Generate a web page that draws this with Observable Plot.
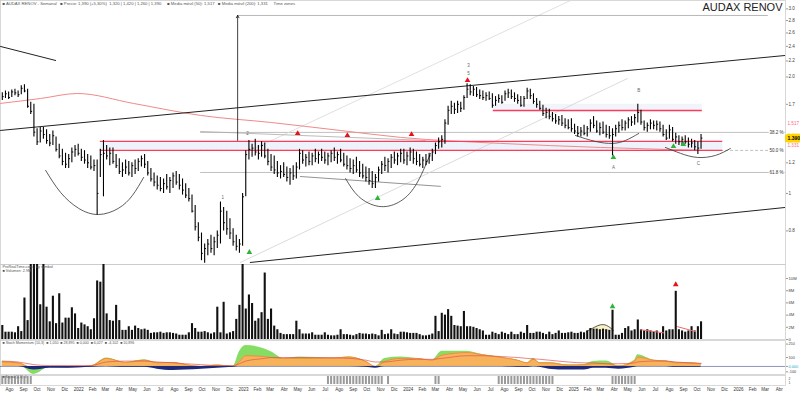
<!DOCTYPE html>
<html><head><meta charset="utf-8">
<script src="https://cdn.jsdelivr.net/npm/d3@7"></script>
<script src="https://cdn.jsdelivr.net/npm/@observablehq/plot@0.6"></script>
<style>
body{margin:0;background:#fff;font-family:"Liberation Sans",Arial,sans-serif}
#c{position:relative;width:800px;height:393px;overflow:hidden;background:#fff}
#c svg{position:absolute;left:0;overflow:visible}
</style></head><body><div id="c"></div>
<script>
// ---------- DATA ----------
const firstWeek = "2021-07-16";
const high = [
1.82,1.84,1.83,1.85,1.86,1.84,1.90,1.91,1.86,1.72,
1.70,1.47,1.48,1.48,1.46,1.42,1.45,1.40,1.34,1.30,
1.27,1.26,1.31,1.33,1.34,1.30,1.29,1.26,1.25,1.22,
1.22,1.30,1.37,1.33,1.31,1.31,1.26,1.23,1.20,1.22,
1.21,1.20,1.22,1.23,1.25,1.26,1.21,1.16,1.13,1.11,
1.10,1.09,1.12,1.10,1.13,1.14,1.12,1.09,1.06,1.03,
0.99,0.93,0.84,0.79,0.74,0.76,0.78,0.77,0.80,0.95,
0.92,0.90,0.86,0.81,0.78,0.76,1.00,1.29,1.37,1.34,
1.38,1.33,1.36,1.35,1.30,1.26,1.25,1.21,1.18,1.20,
1.17,1.16,1.18,1.20,1.30,1.29,1.26,1.28,1.27,1.30,
1.28,1.30,1.28,1.27,1.29,1.31,1.28,1.30,1.27,1.25,
1.23,1.22,1.24,1.21,1.19,1.17,1.16,1.14,1.12,1.17,
1.21,1.24,1.23,1.26,1.28,1.27,1.30,1.30,1.28,1.31,
1.30,1.28,1.26,1.24,1.26,1.27,1.30,1.35,1.39,1.41,
1.55,1.68,1.73,1.71,1.73,1.72,1.79,1.92,1.91,1.89,
1.88,1.85,1.84,1.82,1.83,1.81,1.78,1.80,1.79,1.84,
1.86,1.85,1.82,1.80,1.78,1.78,1.87,1.86,1.81,1.76,
1.73,1.69,1.66,1.65,1.62,1.60,1.58,1.59,1.56,1.55,
1.56,1.51,1.49,1.48,1.50,1.49,1.55,1.58,1.54,1.52,
1.53,1.50,1.49,1.47,1.50,1.53,1.55,1.54,1.57,1.58,
1.60,1.70,1.64,1.54,1.52,1.55,1.54,1.54,1.53,1.50,
1.46,1.50,1.48,1.43,1.41,1.40,1.41,1.39,1.38,1.37,
1.36,1.42];
const low = [
1.74,1.76,1.75,1.77,1.79,1.77,1.80,1.82,1.66,1.60,
1.40,1.33,1.35,1.38,1.34,1.32,1.33,1.28,1.23,1.18,
1.16,1.16,1.20,1.24,1.25,1.21,1.19,1.16,1.15,1.14,
0.88,1.10,0.98,1.22,1.18,1.19,1.16,1.12,1.10,1.12,
1.11,1.10,1.12,1.14,1.17,1.16,1.11,1.07,1.04,1.02,
1.01,1.00,1.02,1.00,1.03,1.05,1.02,0.99,0.97,0.95,
0.89,0.80,0.75,0.67,0.66,0.69,0.70,0.69,0.72,0.74,
0.80,0.78,0.76,0.73,0.71,0.70,0.73,0.98,1.22,1.24,
1.25,1.22,1.24,1.23,1.18,1.14,1.12,1.10,1.09,1.10,
1.07,1.05,1.08,1.09,1.15,1.19,1.17,1.18,1.18,1.20,
1.19,1.21,1.19,1.18,1.20,1.21,1.19,1.20,1.17,1.15,
1.13,1.12,1.13,1.10,1.09,1.07,1.05,1.03,1.03,1.07,
1.12,1.14,1.13,1.16,1.19,1.18,1.20,1.19,1.18,1.21,
1.19,1.18,1.17,1.16,1.18,1.19,1.21,1.26,1.30,1.31,
1.34,1.50,1.60,1.60,1.61,1.62,1.64,1.76,1.79,1.78,
1.77,1.75,1.74,1.73,1.74,1.66,1.68,1.71,1.70,1.73,
1.76,1.75,1.72,1.70,1.67,1.67,1.75,1.75,1.70,1.66,
1.64,1.58,1.56,1.55,1.53,1.51,1.50,1.49,1.47,1.46,
1.44,1.42,1.40,1.40,1.41,1.40,1.44,1.47,1.43,1.41,
1.42,1.39,1.38,1.25,1.40,1.43,1.45,1.45,1.47,1.49,
1.50,1.52,1.50,1.45,1.44,1.46,1.46,1.45,1.44,1.40,
1.37,1.38,1.36,1.34,1.33,1.33,1.34,1.31,1.31,1.29,
1.26,1.30];
const close = [
1.78,1.81,1.77,1.83,1.82,1.80,1.87,1.84,1.68,1.63,
1.44,1.36,1.45,1.42,1.37,1.35,1.41,1.30,1.25,1.21,
1.19,1.23,1.28,1.30,1.27,1.24,1.22,1.20,1.17,1.18,
1.00,1.26,1.27,1.25,1.27,1.21,1.18,1.14,1.15,1.17,
1.13,1.18,1.16,1.21,1.23,1.19,1.13,1.09,1.07,1.05,
1.03,1.06,1.04,1.08,1.11,1.07,1.05,1.02,0.99,0.97,
0.90,0.82,0.77,0.70,0.72,0.74,0.72,0.75,0.78,0.90,
0.84,0.81,0.79,0.75,0.73,0.74,0.98,1.26,1.30,1.31,
1.28,1.27,1.33,1.25,1.21,1.17,1.15,1.13,1.14,1.12,
1.10,1.13,1.11,1.17,1.27,1.22,1.24,1.21,1.25,1.23,
1.26,1.24,1.22,1.25,1.27,1.24,1.26,1.22,1.19,1.18,
1.16,1.18,1.15,1.13,1.11,1.10,1.08,1.06,1.10,1.15,
1.19,1.18,1.21,1.24,1.22,1.25,1.27,1.22,1.25,1.28,
1.23,1.21,1.19,1.22,1.21,1.25,1.28,1.33,1.36,1.38,
1.52,1.64,1.68,1.65,1.70,1.66,1.77,1.86,1.83,1.86,
1.80,1.79,1.77,1.79,1.76,1.69,1.74,1.76,1.72,1.81,
1.82,1.78,1.76,1.74,1.69,1.76,1.84,1.79,1.73,1.70,
1.66,1.61,1.62,1.58,1.56,1.54,1.55,1.52,1.50,1.48,
1.47,1.45,1.43,1.45,1.43,1.47,1.52,1.50,1.45,1.48,
1.44,1.42,1.41,1.42,1.47,1.50,1.48,1.52,1.55,1.53,
1.57,1.62,1.53,1.48,1.50,1.52,1.50,1.51,1.47,1.42,
1.39,1.46,1.38,1.40,1.36,1.38,1.36,1.34,1.35,1.32,
1.31,1.39];
// weekly volume, millions
const volume = [
2.3,1.2,1.2,1.2,1.1,2.1,1.3,6.8,3.1,14,
14,14,5.7,14,5.3,2.9,7.1,2.6,7.5,2.7,
3.5,3.5,5.2,4.2,1.8,2.7,2.4,2.1,1.6,3.4,
9.6,9.4,13,4.2,3.1,3.0,5.6,3.1,1.5,1.5,
2.1,1.5,2.2,1.8,1.6,1.7,1.5,1.0,1.1,1.1,
1.2,1.0,1.1,1.1,1.0,0.9,0.7,0.7,0.7,1.1,
2.6,1.8,1.2,1.2,1.3,1.1,0.9,1.1,5.3,1.1,
6.1,0.9,1.1,1.3,3.3,5.6,14,5.0,7.3,5.9,
3.0,3.4,4.4,10.9,3.3,5.0,2.2,1.6,1.0,0.8,
0.8,0.8,0.8,3.0,1.6,0.9,0.9,0.9,1.1,0.7,
0.7,0.7,1.1,0.7,0.6,0.6,0.7,1.6,0.8,0.8,
0.7,0.6,0.8,1.0,0.9,0.9,0.8,0.9,0.8,0.6,
1.5,0.8,0.9,1.6,0.9,0.8,1.2,1.2,1.1,1.0,
1.0,1.0,0.8,0.6,0.6,0.7,0.9,3.8,1.3,4.3,
4.0,4.9,3.8,2.3,2.2,2.1,4.6,2.1,2.1,2.0,
1.8,1.6,1.4,0.7,0.7,1.2,1.0,0.8,1.2,1.0,
0.8,1.2,0.8,0.8,1.2,1.0,2.3,1.0,1.0,1.2,
1.2,1.0,0.8,1.2,0.8,1.0,1.4,1.0,1.0,1.1,
1.2,1.0,1.0,1.2,1.1,1.4,1.8,1.7,1.7,1.6,
1.7,1.6,1.5,4.8,0.7,0.7,1.0,1.8,2.1,1.4,
1.6,3.2,1.6,1.4,1.6,1.4,1.2,1.4,1.0,2.1,
1.4,1.6,1.6,7.9,1.6,1.4,1.2,1.4,2.1,1.4,
2.1,2.9];
// oscillator (sampled at week index)
const oscIdx = [0,5,10,15,21,28,33,39,45,49,54,58,63,68,73,75,77,83,85,89,94,105,110,115,118,121,126,131,136,139,147,152,158,163,166,168,170,173,179,184,187,191,195,200,201,206,210,213,217,221];
const oscGreen = [55,40,-90,-10,-10,0,95,45,75,40,45,20,0,15,0,165,235,195,165,90,105,95,105,55,0,90,105,90,70,170,170,130,100,70,40,90,40,40,15,20,55,60,5,70,130,70,60,45,40,30];
const oscOrange = [50,40,-20,0,-10,5,90,45,70,40,45,20,0,15,0,55,120,110,100,90,90,95,105,55,0,55,90,90,70,125,155,130,100,70,40,80,40,40,15,20,30,30,5,60,105,70,60,40,40,30];
const oscNavy = [0,0,-40,-20,-20,-10,0,-10,-10,-30,-45,-40,-30,-20,-10,0,0,0,0,0,0,0,0,-10,-20,0,0,0,0,0,0,0,0,-10,-10,0,-10,-30,-40,-40,-20,-20,-30,-10,0,0,0,-10,-10,-10];
const oscRed = [60,50,20,10,10,10,50,60,60,50,40,30,20,10,10,30,60,90,100,100,100,95,90,70,50,50,70,80,80,90,120,120,110,100,90,85,80,70,50,40,40,30,30,40,50,60,60,50,40,35];
// signal bar-code (week index ranges)
const signalRanges = [[0,9],[103,120],[122,122],[137,138],[157,174],[193,200]];

// drawings on the price chart (date, price)
const upperTrend = [["2021-07-12",1.455],["2026-04-15",2.274]];
const topLeftLine = [["2021-07-12",2.399],["2021-11-11",2.207]];
const lowerTrend = [["2023-01-16",0.663],["2026-04-15",0.920]];
const grayDiag1 = [["2022-12-25",0.663],["2025-04-30",1.982]];
const grayDiag2 = [["2023-01-16",1.292],["2024-12-25",3.154]];
const grayLine1 = [["2022-09-28",1.446],["2024-02-08",1.371]];
const grayLine2 = [["2023-05-07",1.106],["2024-03-12",1.043]];
const redLevels = [1.363, 1.292];
const redLevelSpan = ["2022-02-18","2025-11-27"];
const redTopLevel = 1.639;
const redTopSpan = ["2024-07-07","2025-10-13"];
const fibLevels = [1.438, 1.292, 1.133];
const fibLabels = ["38.2 %","50.0 %","61.8 %"];
const fibStart = "2022-09-28";
const maLine = [["2021-07-12",1.709],["2021-10-09",1.760],["2021-12-29",1.813],["2022-05-02",1.709],["2022-09-28",1.591],["2023-03-02",1.526],["2023-08-03",1.455],["2023-12-15",1.396],["2024-07-23",1.347],["2025-03-01",1.315],["2025-07-28",1.299],["2025-10-09",1.292]];
const arc1 = [["2021-10-20",1.147],["2021-11-22",1.006],["2022-01-01",0.915],["2022-02-14",0.882],["2022-03-30",0.915],["2022-04-30",0.988],["2022-05-25",1.100]];
const arc2 = [["2023-08-15",1.093],["2023-09-13",0.982],["2023-10-27",0.926],["2023-12-10",0.948],["2024-01-17",1.049],["2024-02-19",1.269]];
const arc3 = [["2025-01-05",1.412],["2025-02-18",1.363],["2025-03-28",1.347],["2025-04-26",1.371],["2025-05-25",1.429]];
const arc4 = [["2025-07-23",1.315],["2025-08-26",1.269],["2025-10-02",1.239],["2025-11-11",1.254],["2025-12-14",1.307]];
const measureArrow = {date:"2022-12-19", from:1.371, to:2.885, end:"2026-03-08"};
const redMarks = [["2023-05-01",1.429],["2023-08-19",1.412],["2024-01-08",1.421],["2024-05-11",1.959]];
const greenMarks = [["2023-01-14",0.704],["2023-10-25",0.971],["2025-03-30",1.239],["2025-08-10",1.323],["2025-09-01",1.339]];
const waveLabels = [["2022-11-16",0.976,"1"],["2023-01-10",1.429,"2"],["2024-05-13",2.142,"3"],["2024-05-13",2.042,"5"],["2025-05-25",1.846,"B"],["2025-03-30",1.167,"A"],["2025-10-04",1.195,"C"]];
// volume panel drawings
const volRedLine1 = [["2025-05-29",1.6],["2025-07-19",1.1]];
const volRedLine2 = [["2025-08-19",2.1],["2025-09-28",1.3]];
const volArc = [["2025-01-29",1.3],["2025-02-16",2.0],["2025-03-01",2.4],["2025-03-15",2.3],["2025-03-30",1.5]];
const volArcBase = 1.3;
const volMarkRed = [["2025-08-15",9.0]];
const volMarkGreen = [["2025-03-28",5.4]];
// axis labels
const priceTicks = [3.0,2.8,2.6,2.4,2.2,2.0,1.7,1.2,1.0,0.8];
const pinkLabels = [[1.517,"1.517"],[1.331,"1.331"]];
const volTicks = [10,8,6,4,2,0];
const volTickLabels = ["10M","8M","6M","4M","2M","0"];
const oscTicks = [250,100,0,-60];
const oscTickLabels = ["250","100","0.000","-100"];
const sigTicks = [1.4,0.6];
const sigTickLabels = ["2","1"];
const monthNames = ["Ene","Feb","Mar","Abr","May","Jun","Jul","Ago","Sep","Oct","Nov","Dic"];
const title = "AUDAX RENOV";
const headerText = "■ AUDAX RENOV - Semanal   ■ Precio: 1,390 (+5,30%)  1,320 | 1,420 | 1,260 | 1,390     ■ Media móvil (50): 1,517   ■ Media móvil (200): 1,331     Time zones";
const volHeader1 = "ProRealTime.com | by symbol";
const volHeader2 = "■ Volumen: 2.9M";
const oscHeader = "■ Stoch Momentum (10,3)  ■ 1,050  ■ 28,895  ■ 0,000  ■ 6,027  ■ -4,102  ■ 10,896";
const sigHeader = "■ Signal (2,3): 0";

// ---------- RENDER ----------
const c = document.getElementById("c");
const D = s => new Date(s);
const P = a => a.map(([d, v]) => ({x: D(d), y: v}));
const weeks = high.map((_, i) => d3.utcDay.offset(D(firstWeek), 7 * i));
const bars = high.map((h, i) => ({date: weeks[i], high: h, low: low[i], close: close[i], vol: volume[i]}));
const osc = oscIdx.map((k, j) => ({x: weeks[k], g: oscGreen[j], o: oscOrange[j], n: oscNavy[j], r: oscRed[j]}));
const signalWeeks = signalRanges.flatMap(([a, b]) => d3.range(a, b + 1));
const X = {type: "utc", domain: [D("2021-07-12"), D("2026-04-15")], axis: null};
const base = {width: 800, marginLeft: 0, marginRight: 15, marginTop: 0, marginBottom: 0,
  style: {fontFamily: "Liberation Sans, Arial, sans-serif", fontSize: "5px", background: "transparent", overflow: "visible"}};
function place(svg, top) { svg.style.top = top + "px"; c.appendChild(svg); }
const fr = Plot.frame({stroke: "#c8c8c8", strokeWidth: 0.7});
const ln = (data, o) => Plot.line(P(data), {x: "x", y: "y", clip: true, ...o});
const hdr = (txt, dy, size) => Plot.text([txt], {frameAnchor: "top-left", dx: 2, dy, lineAnchor: "top", textAnchor: "start", fontSize: size, fill: "#555"});

const lastClose = close[close.length - 1];
const priceSvg = Plot.plot({...base, height: 264,
  x: X,
  y: {type: "log", domain: [0.655, 3.154], axis: null},
  marks: [
    fr,
    Plot.rect([0], {x1: () => D(redLevelSpan[0]), x2: () => D(redLevelSpan[1]), y1: redLevels[1], y2: redLevels[0], fill: "#eef2fa"}),
    Plot.rect([0], {x1: () => D(redTopSpan[0]), x2: () => D(redTopSpan[1]), y1: redTopLevel, y2: 1.70, fill: "#f1f4fa"}),
    ...fibLevels.map((v, i) => Plot.ruleY([v], {x1: D(fibStart), x2: X.domain[1], stroke: "#b0b0b0", strokeWidth: 0.8, strokeDasharray: i === 1 ? "3,2" : null})),
    ln(grayDiag1, {stroke: "#d2d2d2", strokeWidth: 0.8}),
    ln(grayDiag2, {stroke: "#d8d8d8", strokeWidth: 0.8}),
    ln(grayLine1, {stroke: "#aaa", strokeWidth: 0.8}),
    ln(grayLine2, {stroke: "#777", strokeWidth: 0.8}),
    ln(maLine, {stroke: "#f08a8a", strokeWidth: 1, curve: "monotone-x"}),
    ...redLevels.map(v => Plot.ruleY([v], {x1: D(redLevelSpan[0]), x2: D(redLevelSpan[1]), stroke: "#ff3b5c", strokeWidth: 1.4})),
    Plot.ruleY([redTopLevel], {x1: D(redTopSpan[0]), x2: D(redTopSpan[1]), stroke: "#ff3b5c", strokeWidth: 1.4}),
    ln(upperTrend, {stroke: "#222", strokeWidth: 1}),
    ln(topLeftLine, {stroke: "#222", strokeWidth: 1}),
    ln(lowerTrend, {stroke: "#222", strokeWidth: 1}),
    ...[arc1, arc2, arc3, arc4].map(a => ln(a, {stroke: "#333", strokeWidth: 0.8, curve: "natural"})),
    Plot.ruleY([measureArrow.to], {x1: D(measureArrow.date), x2: D(measureArrow.end), stroke: "#999", strokeWidth: 0.7}),
    Plot.arrow([measureArrow], {x1: d => D(d.date), x2: d => D(d.date), y1: "from", y2: "to", stroke: "#111", strokeWidth: 0.8, headLength: 5}),
    Plot.ruleX(bars, {x: "date", y1: "low", y2: "high", stroke: "#000", strokeWidth: 1.1, clip: true}),
    Plot.link(bars, {x1: "date", x2: d => d3.utcDay.offset(d.date, 3), y1: "close", y2: "close", stroke: "#000", strokeWidth: 1, clip: true}),
    Plot.dot(P(redMarks), {x: "x", y: "y", symbol: "triangle", r: 2.1, fill: "#e8101a"}),
    Plot.dot(P(greenMarks), {x: "x", y: "y", symbol: "triangle", r: 2.1, fill: "#2bb33a"}),
    Plot.text(waveLabels, {x: d => D(d[0]), y: d => d[1], text: d => d[2], fontSize: 4.5, fill: "#666"}),
    Plot.text(fibLevels, {y: d => d, text: (d, i) => fibLabels[i], frameAnchor: "right", textAnchor: "end", dx: -2, fontSize: 4.5, fill: "#333", stroke: "#fff", strokeWidth: 2}),
    Plot.axisY(priceTicks, {anchor: "right", tickSize: 2, tickPadding: 1, fontSize: 4.6, stroke: "#999", fill: "#444", tickFormat: d => d === 1 ? "1" : d.toFixed(1)}),
    Plot.text(pinkLabels, {y: d => d[0], text: d => d[1], frameAnchor: "right", textAnchor: "start", dx: 2, fontSize: 4.6, fill: "#ff6680"}),
    Plot.text([lastClose], {y: d => d, text: d => d.toFixed(3), frameAnchor: "right", textAnchor: "start", dx: 2, fontSize: 5, fontWeight: "bold", fill: "#000", stroke: "#ffd400", strokeWidth: 5}),
    Plot.text([title], {frameAnchor: "top-right", dx: -3, dy: 3, fontSize: 11, fill: "#222", lineAnchor: "top", textAnchor: "end", stroke: "#fff", strokeWidth: 3}),
    hdr(headerText, 2, 4.2)
  ]
});
place(priceSvg, 0);

const volSvg = Plot.plot({...base, height: 75,
  x: X,
  y: {domain: [0, 12.3], axis: null},
  marks: [
    fr,
    Plot.areaY(P(volArc), {x: "x", y1: volArcBase, y2: "y", fill: "#f7f1c8", curve: "natural"}),
    ln(volArc, {stroke: "#333", strokeWidth: 0.8, curve: "natural"}),
    Plot.ruleX(bars, {x: "date", y1: 0, y2: "vol", stroke: "#111", strokeWidth: 2.1, clip: true}),
    ln(volRedLine1, {stroke: "#f06a6a", strokeWidth: 1}),
    ln(volRedLine2, {stroke: "#f06a6a", strokeWidth: 1}),
    Plot.dot(P(volMarkRed), {x: "x", y: "y", symbol: "triangle", r: 2.1, fill: "#e8101a"}),
    Plot.dot(P(volMarkGreen), {x: "x", y: "y", symbol: "triangle", r: 2.1, fill: "#2bb33a"}),
    Plot.axisY(volTicks, {anchor: "right", tickSize: 2, tickPadding: 1, fontSize: 4.2, stroke: "#999", fill: "#444", tickFormat: d => volTickLabels[volTicks.indexOf(d)]}),
    hdr(volHeader1, 0.5, 3.8),
    hdr(volHeader2, 5, 3.8)
  ]
});
place(volSvg, 264);

const oscSvg = Plot.plot({...base, height: 34,
  x: X,
  y: {domain: [-90, 290], axis: null},
  marks: [
    fr,
    Plot.areaY(osc, {x: "x", y1: 0, y2: "g", fill: "#86dd64", curve: "monotone-x"}),
    Plot.areaY(osc, {x: "x", y1: 0, y2: "o", fill: "#f6b35c", curve: "monotone-x"}),
    Plot.line(osc, {x: "x", y: "o", stroke: "#d97a25", strokeWidth: 0.6, curve: "monotone-x"}),
    Plot.areaY(osc, {x: "x", y1: 0, y2: "n", fill: "#1f2a7a", curve: "monotone-x"}),
    Plot.line(osc, {x: "x", y: "r", stroke: "#e65050", strokeWidth: 0.7, curve: "monotone-x"}),
    Plot.ruleY([0], {stroke: "#1f2a7a", strokeWidth: 0.5}),
    Plot.axisY(oscTicks, {anchor: "right", tickSize: 2, tickPadding: 1, fontSize: 3.8, stroke: "#999", fill: d => d === 0 ? "#19a7c9" : "#444", tickFormat: d => oscTickLabels[oscTicks.indexOf(d)]}),
    hdr(oscHeader, 0.8, 3.6)
  ]
});
place(oscSvg, 340);

const sigSvg = Plot.plot({...base, height: 10,
  x: X,
  y: {domain: [0, 2], axis: null},
  marks: [
    fr,
    Plot.ruleX(signalWeeks, {x: i => weeks[i], stroke: "#9a9a9a", strokeWidth: 2, insetTop: 1, insetBottom: 1}),
    Plot.axisY(sigTicks, {anchor: "right", tickSize: 0, tickPadding: 3, fontSize: 3.4, fill: "#444", tickFormat: d => sigTickLabels[sigTicks.indexOf(d)]}),
    hdr(sigHeader, 0.5, 3.4)
  ]
});
place(sigSvg, 375);

const months = d3.utcMonth.range(D("2021-08-01"), D("2026-04-15"));
const axSvg = Plot.plot({...base, height: 8,
  x: X,
  marks: [
    Plot.text(months, {x: d => d, frameAnchor: "middle", text: d => d.getUTCMonth() === 0 ? String(d.getUTCFullYear()) : monthNames[d.getUTCMonth()], fontSize: 4.5, fontWeight: d => d.getUTCMonth() === 0 ? "bold" : "normal", fill: "#333"})
  ]
});
place(axSvg, 385);
</script>
</body></html>
